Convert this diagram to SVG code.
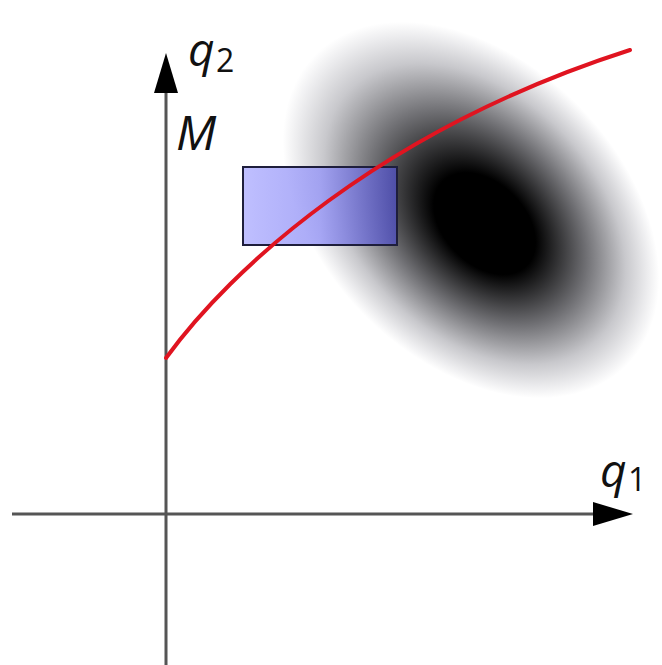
<svg xmlns="http://www.w3.org/2000/svg" width="662" height="665" viewBox="0 0 662 665">
<style>
.axis{stroke:#555;stroke-width:3;fill:none}
.lbl{font-family:"Open Sans","DejaVu Sans",sans-serif;font-style:italic;fill:#111}
.sub{font-family:"Open Sans","DejaVu Sans",sans-serif;fill:#111}
</style>
<defs>
<radialGradient id="blob" cx="0.5" cy="0.5" r="0.5" fx="0.56" fy="0.5">
<stop offset="0" stop-color="#000"/>
<stop offset="0.27" stop-color="#000"/>
<stop offset="0.57" stop-color="#707074"/>
<stop offset="0.8" stop-color="#c8c8cc"/>
<stop offset="0.93" stop-color="#ececee"/>
<stop offset="1" stop-color="#fff"/>
</radialGradient>
<linearGradient id="box" x1="0" y1="0" x2="1" y2="0">
<stop offset="0" stop-color="#b4b4ff"/>
<stop offset="0.5" stop-color="#9a9af5"/>
<stop offset="1" stop-color="#5050b8"/>
</linearGradient>
<marker id="ah" viewBox="0 0 40 24" refX="0" refY="12" markerWidth="40" markerHeight="24" markerUnits="userSpaceOnUse" orient="auto">
<path d="M0,0 L40,12 L0,24 Z" fill="#000"/>
</marker>
</defs>
<g id="density">
<ellipse cx="471" cy="210" rx="220" ry="150" transform="rotate(45 471 210)" fill="url(#blob)"/>
</g>
<g id="connectors">
<line class="axis" x1="166" y1="665" x2="166" y2="93" marker-end="url(#ah)"/>
<line class="axis" x1="12" y1="514" x2="593" y2="514" marker-end="url(#ah)"/>
</g>
<g id="region">
<rect x="243" y="167" width="154" height="78" fill="url(#box)" fill-opacity="0.85" stroke="#1e1e3c" stroke-width="2"/>
</g>
<g id="manifold">
<path d="M166,358 C230,270 380,130 630,50" fill="none" stroke="#e01420" stroke-width="4" stroke-linecap="round"/>
</g>
<g id="labels">
<text class="lbl" x="188" y="66" font-size="46">q</text>
<text class="sub" x="216" y="72" font-size="32">2</text>
<text class="lbl" x="176" y="150" font-size="48">M</text>
<text class="lbl" x="600" y="487" font-size="46">q</text>
<text class="sub" x="628" y="491" font-size="32">1</text>
</g>
</svg>
